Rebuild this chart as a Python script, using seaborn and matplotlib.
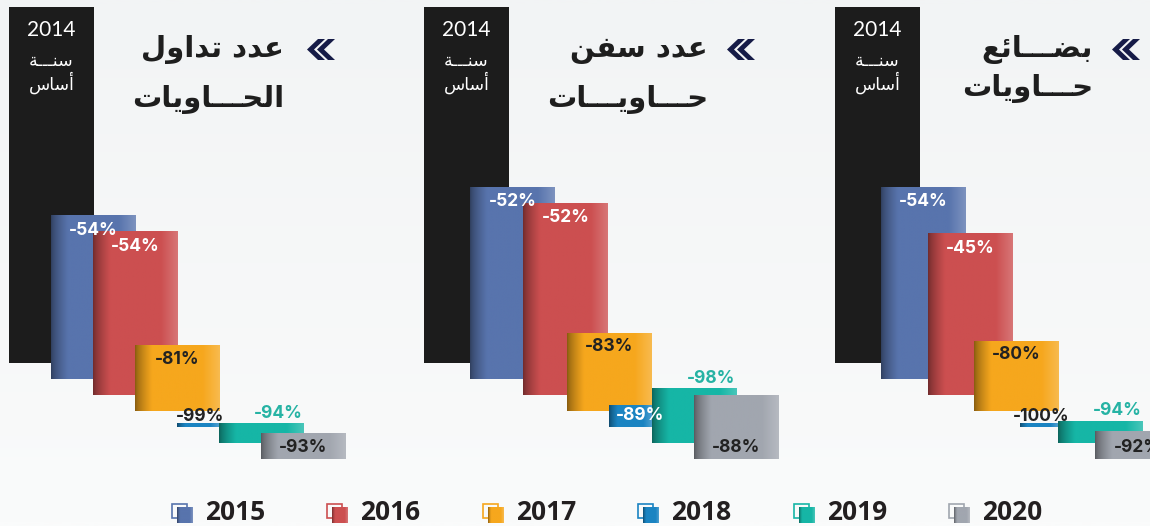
"""
Container traffic vs 2014 base year -- three staircase panels.
"""

import numpy as np
import matplotlib
matplotlib.use("Agg")
import matplotlib.pyplot as plt
from matplotlib.colors import to_rgb
from matplotlib.patches import Rectangle, Polygon
import seaborn as sns

# ---- data -----------------------------------------------------------------
BASE_YEAR = "2014"
BASE_TEXT = ["سنـــة", "أساس"]
YEARS = ["2015", "2016", "2017", "2018", "2019", "2020"]

TITLES = [
    ["عدد تداول", "الحـــاويات"],
    ["عدد سفن", "حـــاويـــات"],
    ["بضـــائع", "حـــاويات"],
]

# change vs 2014 (printed labels)
LABELS = [
    ["-54%", "-54%", "-81%", "-99%", "-94%", "-93%"],
    ["-52%", "-52%", "-83%", "-89%", "-98%", "-88%"],
    ["-54%", "-45%", "-80%", "-100%", "-94%", "-92%"],
]

# bar heights as drawn in the picture (2014 bar = 100)
HEIGHTS = [
    [46, 46, 18.5, 1.0, 5.6, 7.3],
    [54, 54, 22, 6.2, 15.4, 18],
    [54, 45.5, 19.7, 1.0, 6.2, 7.9],
]

COLORS = {
    "2014": "#1c1c1c",
    "2015": "#5874ad",
    "2016": "#cc4f50",
    "2017": "#f6a71d",
    "2018": "#1b84c2",
    "2019": "#16b6a6",
    "2020": "#a1a6af",
}
TEAL_TEXT = "#26b3a4"
DARK_TEXT = "#222222"
NAVY = "#161b47"
BG = "#f5f7f8"

# ---- layout (pixels) ------------------------------------------------------
W, H = 1150, 526
PX_PER_UNIT = 3.56          # 100 units == 356 px base bar
BASE_PX = 363               # bottom of the 2014 bar
STEP_DOWN = 16              # each year's bar drops by this much
BAR_W = 85
PANEL_LEFT = [9, 424, 835]
SLOT_X = [
    [0, 42, 84, 126, 168, 210, 252],
    [0, 46, 99, 143, 185, 228, 270],
    [0, 46, 93, 139, 185, 223, 260],
]
W_2018 = [42, 43, 38]
TITLE_RIGHT = [284, 708, 1093]
TITLE_BASE = [(57, 107), (57, 107), (57, 96)]
CHEVRON_X = [307, 727, 1112]


def u(px):
    return px / PX_PER_UNIT


# ---- arabic shaping (matplotlib has no complex text layout) ---------------
FORMS = {
    "ا": "\uFE8D\uFE8E", "أ": "\uFE83\uFE84", "ة": "\uFE93\uFE94",
    "د": "\uFEA9\uFEAA", "و": "\uFEED\uFEEE",
    "ب": "\uFE8F\uFE90\uFE91\uFE92", "ت": "\uFE95\uFE96\uFE97\uFE98",
    "ح": "\uFEA1\uFEA2\uFEA3\uFEA4", "س": "\uFEB1\uFEB2\uFEB3\uFEB4",
    "ض": "\uFEBD\uFEBE\uFEBF\uFEC0", "ع": "\uFEC9\uFECA\uFECB\uFECC",
    "ف": "\uFED1\uFED2\uFED3\uFED4", "ل": "\uFEDD\uFEDE\uFEDF\uFEE0",
    "ن": "\uFEE5\uFEE6\uFEE7\uFEE8", "ي": "\uFEF1\uFEF2\uFEF3\uFEF4",
    "ئ": "\uFE89\uFE8A\uFE8B\uFE8C",
}
TATWEEL = "ـ"


def dual(ch):
    return ch == TATWEEL or (ch in FORMS and len(FORMS[ch]) == 4)


def arabic(ch):
    return ch == TATWEEL or ch in FORMS


def shape(text):
    out = []
    for i, c in enumerate(text):
        if c not in FORMS:
            out.append(c)
            continue
        prev = text[i - 1] if i > 0 else ""
        nxt = text[i + 1] if i + 1 < len(text) else ""
        jp = bool(prev) and dual(prev)
        jn = bool(nxt) and dual(c) and arabic(nxt)
        f = FORMS[c]
        if jp and jn:
            out.append(f[3])
        elif jp:
            out.append(f[1])
        elif jn:
            out.append(f[2])
        else:
            out.append(f[0])
    return "".join(reversed(out))


# ---- helpers --------------------------------------------------------------
def gradient(color, n=120):
    base = np.array(to_rgb(color))
    dark = base * 0.55
    light = base + (1 - base) * 0.22
    xs = np.linspace(0, 1, n)
    img = np.empty((1, n, 3))
    for k, x in enumerate(xs):
        if x < 0.2:
            t = (x / 0.2) ** 0.7
            img[0, k] = dark * (1 - t) + base * t
        elif x > 0.8:
            t = (x - 0.8) / 0.2
            img[0, k] = base * (1 - t) + light * t
        else:
            img[0, k] = base
    return img


def shaded(ax, patch, color, z):
    x0, y0 = patch.get_x(), patch.get_y()
    x1, y1 = x0 + patch.get_width(), y0 + patch.get_height()
    im = ax.imshow(gradient(color), extent=(x0, x1, min(y0, y1), max(y0, y1)),
                   aspect="auto", interpolation="bilinear", zorder=z)
    im.set_clip_path(patch)


sns.set_theme(style="white")
plt.rcParams["font.family"] = ["DejaVu Sans"]

fig = plt.figure(figsize=(W / 100, H / 100), dpi=100)
fig.patch.set_facecolor(BG)

# soft background wash
bg = fig.add_axes([0, 0, 1, 1], zorder=-5)
bg.axis("off")
top_c, bot_c = np.array(to_rgb("#f2f4f5")), np.array(to_rgb("#fafbfb"))
ramp = np.linspace(0, 1, 64)[:, None, None]
bg.imshow(top_c * (1 - ramp) + bot_c * ramp, extent=(0, 1, 0, 1),
          aspect="auto", interpolation="bilinear")

ylim = (-u(H - BASE_PX), u(BASE_PX))
NUM_FONT = ["Inter", "DejaVu Sans"]

for p in range(3):
    ax = fig.add_axes([PANEL_LEFT[p] / W, 0, 400 / W, 1])
    ax.set_facecolor("none")
    ax.axis("off")

    heights = [100] + HEIGHTS[p]
    years = [BASE_YEAR] + YEARS
    for i, (yr, h) in enumerate(zip(years, heights)):
        bottom = -u(STEP_DOWN * i)
        width = W_2018[p] if yr == "2018" else BAR_W
        bar = ax.bar(SLOT_X[p][i], h, width=width, bottom=bottom, align="edge",
                     color=COLORS[yr], linewidth=0, zorder=2 + i)[0]
        if yr != BASE_YEAR:
            shaded(ax, bar, COLORS[yr], 2 + i)

        cx = SLOT_X[p][i] + width / 2
        top = bottom + h
        if yr == BASE_YEAR:
            ax.text(cx, u(BASE_PX - 30), BASE_YEAR, color="white", ha="center",
                    va="center", fontsize=15, family=["Lato", "DejaVu Sans"],
                    fontweight="normal", zorder=20)
            ax.text(cx, u(BASE_PX - 61), shape(BASE_TEXT[0]), color="white",
                    ha="center", va="center", fontsize=12.5, zorder=20)
            ax.text(cx, u(BASE_PX - 83), shape(BASE_TEXT[1]), color="white",
                    ha="center", va="center", fontsize=12.5, zorder=20)
            continue

        lab = LABELS[p][i - 1]
        kw = dict(ha="center", va="center", fontsize=12.5, fontweight="bold",
                  family=NUM_FONT, zorder=30)
        if yr in ("2015", "2016"):
            ax.text(cx, top - u(15), lab, color="white", **kw)
        elif yr == "2017":
            ax.text(cx, top - u(14), lab, color=DARK_TEXT, **kw)
        elif yr == "2018":
            if h < 3:
                ax.text(cx + 2, top + u(7), lab, color=DARK_TEXT, **kw)
            else:
                ax.text(cx + 10, bottom + h / 2, lab, color="white", **kw)
        elif yr == "2019":
            ax.text(cx + 17, top + u(10), lab, color=TEAL_TEXT, **kw)
        else:
            ax.text(cx, bottom + u(12), lab, color=DARK_TEXT, **kw)

    ax.set_xlim(0, 400)
    ax.set_ylim(*ylim)

# ---- overlay: titles, chevrons, legend (pixel coords) ---------------------
ov = fig.add_axes([0, 0, 1, 1], zorder=10)
ov.set_facecolor("none")
ov.axis("off")

for p in range(3):
    l1, l2 = TITLES[p]
    b1, b2 = TITLE_BASE[p]
    ov.text(TITLE_RIGHT[p], b1, shape(l1), ha="right", va="baseline",
            fontsize=21, fontweight="bold", color="#1e1e1e")
    ov.text(TITLE_RIGHT[p], b2, shape(l2), ha="right", va="baseline",
            fontsize=21, fontweight="bold", color="#1e1e1e")
    x0, cy, hh, w, t = CHEVRON_X[p], 49.5, 21, 11, 7
    for dx in (0, 10):
        xx = x0 + dx
        pts = [(xx, cy), (xx + w, cy - hh / 2), (xx + w + t, cy - hh / 2),
               (xx + t, cy), (xx + w + t, cy + hh / 2), (xx + w, cy + hh / 2)]
        ov.add_patch(Polygon(pts, closed=True, color=NAVY, lw=0))

icon_x = np.linspace(172, 949, len(YEARS))
for k, yr in enumerate(YEARS):
    x0 = icon_x[k]
    ov.add_patch(Rectangle((x0, 504), 15, 14, fill=False, lw=1.2,
                           edgecolor=COLORS[yr]))
    sq = Rectangle((x0 + 5, 507), 16, 16, color=COLORS[yr], lw=0)
    ov.add_patch(sq)
    shaded(ov, sq, COLORS[yr], 3)
    ov.text(x0 + 33, 513, yr, ha="left", va="center", fontsize=19,
            fontweight="bold", family=["Open Sans", "DejaVu Sans"],
            color="#231f20")

ov.set_xlim(0, W)
ov.set_ylim(H, 0)

fig.savefig("out.png", dpi=100, facecolor=BG)
